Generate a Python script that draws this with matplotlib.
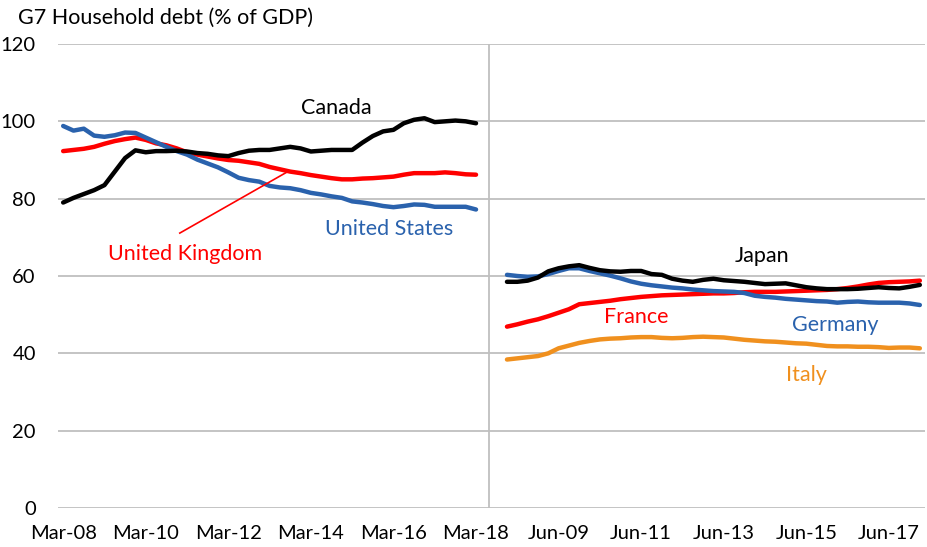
import matplotlib
matplotlib.use("Agg")
import matplotlib.pyplot as plt
import numpy as np

plt.rcParams['font.family'] = ['Lato', 'DejaVu Sans']

# Left block: Mar-08 .. Mar-18 quarterly (41 points), category index 0..40
canada = [79.0, 80.2, 81.2, 82.2, 83.5, 87.0, 90.5, 92.5, 92.0, 92.3, 92.3, 92.4, 92.2, 91.8,
          91.6, 91.2, 91.0, 91.8, 92.4, 92.6, 92.6, 93.0, 93.4, 93.0, 92.2, 92.4, 92.6, 92.6,
          92.6, 94.5, 96.2, 97.4, 97.8, 99.5, 100.4, 100.8, 99.8, 100.0, 100.2, 100.0, 99.5]
uk = [92.3, 92.6, 92.9, 93.4, 94.2, 94.9, 95.4, 95.8, 95.2, 94.3, 93.8, 93.0, 92.0, 91.4,
      90.9, 90.4, 90.0, 89.8, 89.4, 89.0, 88.2, 87.6, 87.0, 86.6, 86.1, 85.7, 85.3, 85.0,
      85.0, 85.2, 85.3, 85.5, 85.7, 86.2, 86.6, 86.6, 86.6, 86.8, 86.6, 86.3, 86.2]
us = [98.8, 97.6, 98.1, 96.3, 96.0, 96.4, 97.1, 97.0, 95.8, 94.6, 93.4, 92.3, 91.4, 90.1,
      89.1, 88.1, 86.8, 85.4, 84.8, 84.4, 83.3, 82.9, 82.7, 82.2, 81.5, 81.1, 80.6, 80.2,
      79.3, 79.0, 78.6, 78.1, 77.8, 78.1, 78.5, 78.4, 77.9, 77.9, 77.9, 77.9, 77.2]

# Right block: Mar-08 .. Mar-18 quarterly (41 points), category index 43..83
japan = [58.5, 58.5, 58.8, 59.6, 61.2, 62.0, 62.5, 62.8, 62.1, 61.5, 61.2, 61.1, 61.3, 61.3,
         60.5, 60.3, 59.3, 58.8, 58.5, 59.0, 59.3, 58.9, 58.7, 58.5, 58.2, 57.9, 58.0, 58.1,
         57.6, 57.1, 56.8, 56.6, 56.6, 56.6, 56.7, 56.9, 57.1, 56.9, 56.8, 57.2, 57.7]
germany = [60.3, 60.0, 59.8, 59.9, 60.5, 61.3, 62.0, 62.0, 61.3, 60.7, 60.1, 59.4, 58.6, 58.0,
           57.6, 57.3, 57.0, 56.8, 56.5, 56.3, 56.1, 56.0, 55.9, 55.6, 54.9, 54.6, 54.4, 54.1,
           53.9, 53.7, 53.5, 53.4, 53.1, 53.3, 53.4, 53.2, 53.1, 53.1, 53.1, 52.9, 52.5]
france = [46.9, 47.5, 48.2, 48.8, 49.6, 50.5, 51.4, 52.7, 53.0, 53.3, 53.6, 54.0, 54.3, 54.6,
          54.8, 55.0, 55.1, 55.2, 55.3, 55.4, 55.5, 55.5, 55.6, 55.8, 55.9, 55.9, 55.9, 56.0,
          56.1, 56.2, 56.3, 56.4, 56.6, 56.9, 57.3, 57.8, 58.2, 58.4, 58.5, 58.6, 58.8]
italy = [38.4, 38.7, 39.0, 39.3, 40.0, 41.3, 42.0, 42.7, 43.2, 43.6, 43.8, 43.9, 44.1, 44.2,
         44.2, 44.0, 43.9, 44.0, 44.2, 44.3, 44.2, 44.1, 43.8, 43.5, 43.3, 43.1, 43.0, 42.8,
         42.6, 42.5, 42.2, 41.9, 41.8, 41.8, 41.7, 41.7, 41.6, 41.4, 41.5, 41.5, 41.3]

tick_pos = [0, 8, 16, 24, 32, 40, 48, 56, 64, 72, 80]
tick_labels = ['Mar-08', 'Mar-10', 'Mar-12', 'Mar-14', 'Mar-16', 'Mar-18',
               'Jun-09', 'Jun-11', 'Jun-13', 'Jun-15', 'Jun-17']
y_ticks = [0, 20, 40, 60, 80, 100, 120]

BLACK = '#000000'
RED = '#ff0000'
BLUE = '#2a62ad'
ORANGE = '#f0901e'

fig = plt.figure(figsize=(9.28, 5.47), dpi=100)
ax = fig.add_axes([58/928, 1-508/547, 867/928, 464/547])

xl = np.arange(0, 41)
xr = np.arange(43, 84)
lw = 3.2
ax.plot(xl, uk, color=RED, lw=lw, solid_capstyle='round', zorder=3)
ax.plot(xl, us, color=BLUE, lw=lw, solid_capstyle='round', zorder=4)
ax.plot(xl, canada, color=BLACK, lw=lw, solid_capstyle='round', zorder=5)
ax.plot(xr, italy, color=ORANGE, lw=lw, solid_capstyle='round', zorder=3)
ax.plot(xr, france, color=RED, lw=lw, solid_capstyle='round', zorder=4)
ax.plot(xr, germany, color=BLUE, lw=lw, solid_capstyle='round', zorder=5)
ax.plot(xr, japan, color=BLACK, lw=lw, solid_capstyle='round', zorder=6)

ax.set_xlim(-0.5, 83.5)
ax.set_ylim(0, 120)
ax.set_yticks(y_ticks)
ax.set_xticks(tick_pos)
ax.set_xticklabels(tick_labels)
ax.tick_params(axis='both', length=0, labelsize=14.5, colors='black')
ax.tick_params(axis='x', pad=12)
ax.tick_params(axis='y', pad=16)
for s in ax.spines.values():
    s.set_visible(False)
ax.grid(axis='y', color='#bfbfbf', lw=1.3)
ax.set_axisbelow(True)
ax.axvline(41.25, color='#bfbfbf', lw=1.3, zorder=1)

# annotation line for UK
ax.plot([11.3, 21.7], [71.1, 86.9], color=RED, lw=1.2, zorder=6)

fs = 15.5
ax.text(26.5, 103.5, 'Canada', color=BLACK, fontsize=fs, ha='center', va='center')
ax.text(11.8, 65.7, 'United Kingdom', color=RED, fontsize=fs, ha='center', va='center')
ax.text(31.6, 72.1, 'United States', color=BLUE, fontsize=fs, ha='center', va='center')
ax.text(67.7, 65.2, 'Japan', color=BLACK, fontsize=fs, ha='center', va='center')
ax.text(55.5, 49.4, 'France', color=RED, fontsize=fs, ha='center', va='center')
ax.text(74.8, 47.3, 'Germany', color=BLUE, fontsize=fs, ha='center', va='center')
ax.text(72.0, 34.4, 'Italy', color=ORANGE, fontsize=fs, ha='center', va='center')

fig.text(18/928, 1-18/547, 'G7 Household debt (% of GDP)', fontsize=15.5, ha='left', va='center')

fig.savefig('out.png', dpi=100)
